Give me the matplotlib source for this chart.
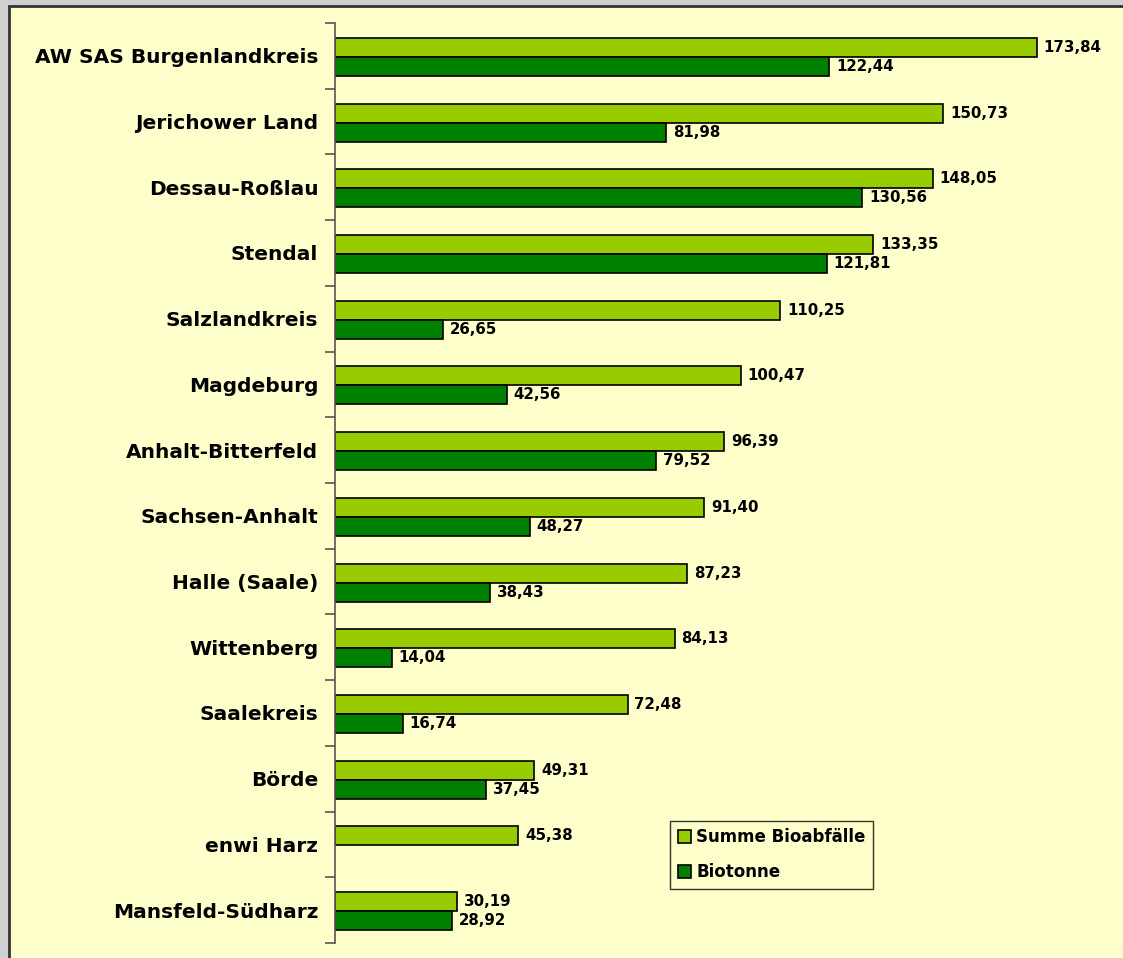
import matplotlib
matplotlib.use("Agg")
import matplotlib.pyplot as plt
from matplotlib.patches import Rectangle
import numpy as np

categories = ["AW SAS Burgenlandkreis", "Jerichower Land", "Dessau-Roßlau", "Stendal",
              "Salzlandkreis", "Magdeburg", "Anhalt-Bitterfeld", "Sachsen-Anhalt",
              "Halle (Saale)", "Wittenberg", "Saalekreis", "Börde", "enwi Harz",
              "Mansfeld-Südharz"]
summe = [173.84, 150.73, 148.05, 133.35, 110.25, 100.47, 96.39, 91.40, 87.23,
         84.13, 72.48, 49.31, 45.38, 30.19]
biotonne = [122.44, 81.98, 130.56, 121.81, 26.65, 42.56, 79.52, 48.27, 38.43,
            14.04, 16.74, 37.45, None, 28.92]
series_names = ["Summe Bioabfälle", "Biotonne"]

plt.rcParams['font.family'] = ['DejaVu Sans']

W, H = 1123, 958
fig = plt.figure(figsize=(W / 100, H / 100), dpi=100, facecolor="#d0d0d0")

# chart area frame
fig.patches.append(Rectangle((9 / W, -0.05), 1.2, 1 - 6 / H + 0.05,
                             transform=fig.transFigure, facecolor="#FFFFCC",
                             edgecolor="#333333", linewidth=2, zorder=-10))

ax = fig.add_axes([335 / W, 1 - 943 / H, 767 / W, (943 - 23) / H])
ax.set_facecolor("none")
ax.set_zorder(5)

n = len(categories)
y = np.arange(n)
bh = 0.29
light = "#99CC00"
dark = "#008000"

ax.barh(y - bh / 2 + 0.015, summe, height=bh, color=light, edgecolor="black", linewidth=1.2,
        label=series_names[0])
bt_y = [yy + bh / 2 + 0.015 for yy, v in zip(y, biotonne) if v is not None]
bt_v = [v for v in biotonne if v is not None]
ax.barh(bt_y, bt_v, height=bh, color=dark, edgecolor="black", linewidth=1.2,
        label=series_names[1])

def fmt(v):
    return f"{v:.2f}".replace(".", ",")

for yy, v in zip(y, summe):
    ax.text(v + 1.7, yy - bh / 2 + 0.015, fmt(v), va="center", ha="left",
            fontsize=10.8, fontweight="bold")
for yy, v in zip(bt_y, bt_v):
    ax.text(v + 1.7, yy, fmt(v), va="center", ha="left",
            fontsize=10.8, fontweight="bold")

ax.set_xlim(0, 190)
ax.set_ylim(n - 0.5, -0.5)

ax.set_yticks(y)
ax.set_yticklabels(categories, fontsize=14.5, fontweight="bold")
ax.tick_params(axis="y", which="major", length=0, pad=12)
ax.set_yticks(np.arange(-0.5, n, 1.0), minor=True)
ax.tick_params(axis="y", which="minor", length=7, width=1.2, color="#555555")
ax.set_xticks([])
for s in ["top", "right", "bottom"]:
    ax.spines[s].set_visible(False)
ax.spines["left"].set_color("#555555")
ax.spines["left"].set_linewidth(1.2)

leg = ax.legend(loc="upper left", bbox_to_anchor=((670 - 335) / 767, 1 - (821 - 23) / 920),
                frameon=True, fancybox=False, facecolor="#FFFFCC", edgecolor="black",
                prop={"weight": "bold", "size": 12}, handlelength=0.78, handleheight=0.78,
                handletextpad=0.34, borderpad=0.45, labelspacing=1.0, borderaxespad=0)
leg.get_frame().set_linewidth(1.0)

fig.savefig("out.png", dpi=100, facecolor=fig.get_facecolor())
